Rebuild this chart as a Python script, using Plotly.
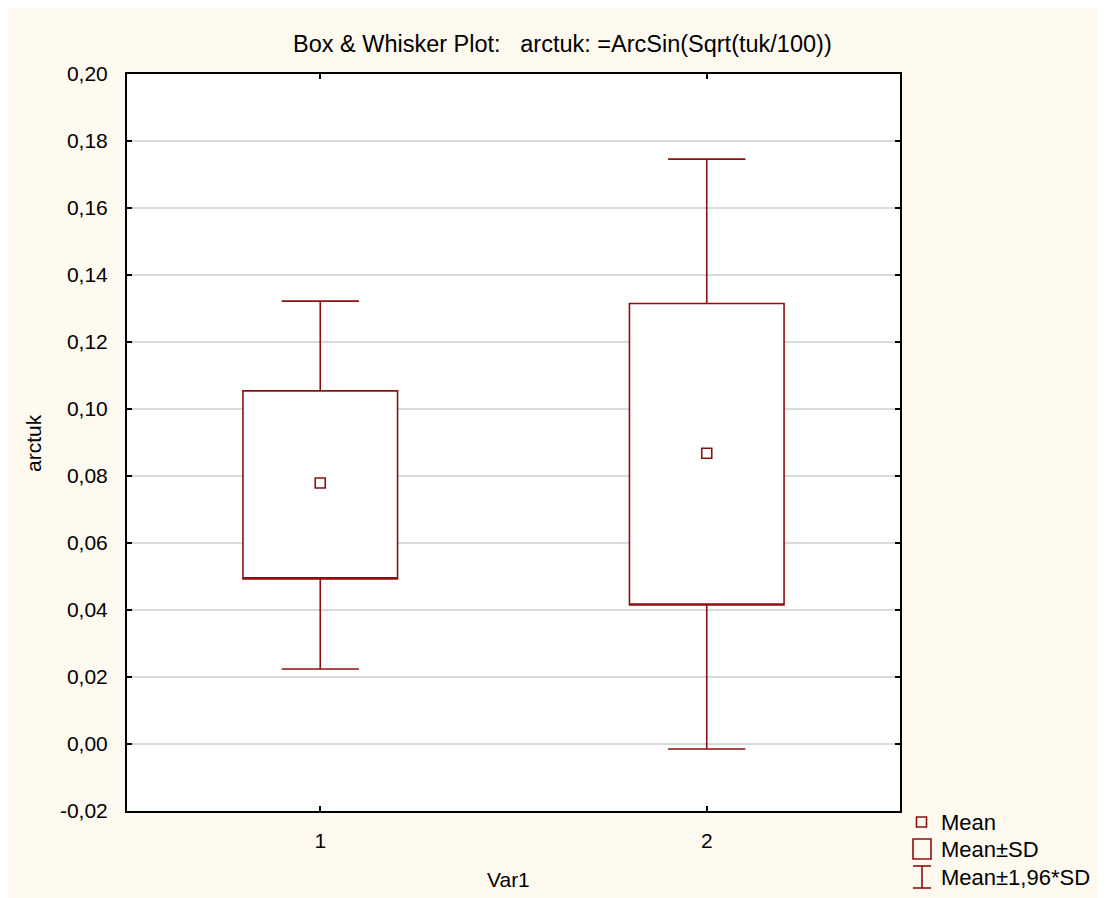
import plotly.graph_objects as go

# ---- data ----
categories = [1, 2]
cat_labels = ["1", "2"]
means = [0.0779, 0.0868]
sd_low = [0.0493, 0.0415]
sd_high = [0.1054, 0.1315]
ci_low = [0.0224, -0.0015]
ci_high = [0.1322, 0.1746]

y_ticks = [-0.02, 0.0, 0.02, 0.04, 0.06, 0.08, 0.10, 0.12, 0.14, 0.16, 0.18, 0.20]
y_tick_labels = ["-0,02", "0,00", "0,02", "0,04", "0,06", "0,08", "0,10",
                 "0,12", "0,14", "0,16", "0,18", "0,20"]

RED = "#8B1111"
CREAM = "#FEFAF0"
FONT = "Liberation Sans, Arial, sans-serif"

OFF = 8  # page body margin
W, H = 1106 - OFF, 898 - OFF
# plot area in page pixels
PL, PR, PT, PB = 127, 900, 74, 811
L, R, T, B = PL - OFF, PR - OFF, PT - OFF, PB - OFF


def px(x):
    return (x - PL) / (PR - PL)


def py(y):
    return (PB - y) / (PB - PT)


fig = go.Figure()

fig.add_trace(go.Box(
    x=categories,
    q1=sd_low,
    median=sd_low,
    q3=sd_high,
    lowerfence=ci_low,
    upperfence=ci_high,
    width=0.4,
    whiskerwidth=0.5,
    boxpoints=False,
    fillcolor="white",
    line=dict(color=RED, width=1.6),
    showlegend=False,
    hoverinfo="skip",
))

fig.add_trace(go.Scatter(
    x=categories,
    y=means,
    mode="markers",
    marker=dict(symbol="square-open", size=10, color=RED, line=dict(width=1.6, color=RED)),
    showlegend=False,
    hoverinfo="skip",
))

shapes = [
    dict(type="rect", xref="paper", yref="paper", x0=px(916.5), x1=px(926.5), y0=py(827), y1=py(817),
         fillcolor="rgba(0,0,0,0)", line=dict(color=RED, width=1.6)),
    dict(type="rect", xref="paper", yref="paper", x0=px(913), x1=px(931), y0=py(859), y1=py(839),
         fillcolor="rgba(0,0,0,0)", line=dict(color=RED, width=1.6)),
    dict(type="line", xref="paper", yref="paper", x0=px(922), x1=px(922), y0=py(888), y1=py(866),
         line=dict(color=RED, width=1.6)),
    dict(type="line", xref="paper", yref="paper", x0=px(913), x1=px(931), y0=py(866), y1=py(866),
         line=dict(color=RED, width=1.6)),
    dict(type="line", xref="paper", yref="paper", x0=px(913), x1=px(931), y0=py(888), y1=py(888),
         line=dict(color=RED, width=1.6)),
]

legend_items = [("Mean", 822), ("Mean±SD", 849), ("Mean±1,96*SD", 877)]
annotations = []
for txt, yy in legend_items:
    annotations.append(dict(text=txt, xref="paper", yref="paper", x=px(939), y=py(yy),
                             xanchor="left", yanchor="middle", showarrow=False,
                             font=dict(size=22, color="black", family=FONT)))

annotations.append(dict(text="Var1", xref="paper", yref="paper", x=px(508), y=py(880),
                        xanchor="center", yanchor="middle", showarrow=False,
                        font=dict(size=21, color="black", family=FONT)))
annotations.append(dict(text="arctuk", xref="paper", yref="paper", x=px(33), y=py(443),
                        xanchor="center", yanchor="middle", showarrow=False, textangle=-90,
                        font=dict(size=21, color="black", family=FONT)))
annotations.append(dict(text="Box &amp; Whisker Plot:\u00a0\u00a0 arctuk: =ArcSin(Sqrt(tuk/100))",
                        xref="paper", yref="paper", x=px(562.5), y=py(44),
                        xanchor="center", yanchor="middle", showarrow=False,
                        font=dict(size=23.5, color="black", family=FONT)))

fig.update_layout(
    width=W, height=H,
    margin=dict(l=L, r=W - R, t=T, b=H - B, pad=0),
    paper_bgcolor=CREAM,
    plot_bgcolor="white",
    font=dict(family=FONT, size=21, color="black"),
    shapes=shapes,
    annotations=annotations,
    showlegend=False,
)

fig.update_xaxes(
    range=[0.5, 2.5],
    tickvals=categories,
    ticktext=cat_labels,
    showgrid=False,
    zeroline=False,
    showline=True, linecolor="black", linewidth=2,
    mirror="allticks",
    ticks="inside", ticklen=5, tickwidth=1.5, tickcolor="black",
    ticklabelstandoff=10,
    tickfont=dict(size=21, family=FONT, color="black"),
)

fig.update_yaxes(
    range=[-0.02, 0.20],
    tickvals=y_ticks,
    ticktext=y_tick_labels,
    showgrid=True, gridcolor="#DADADA", gridwidth=1.5,
    zeroline=False,
    showline=True, linecolor="black", linewidth=2,
    mirror="allticks",
    ticks="inside", ticklen=5, tickwidth=1.5, tickcolor="black",
    ticklabelstandoff=13,
    tickfont=dict(size=21, family=FONT, color="black"),
)

fig.write_html("out.html")
